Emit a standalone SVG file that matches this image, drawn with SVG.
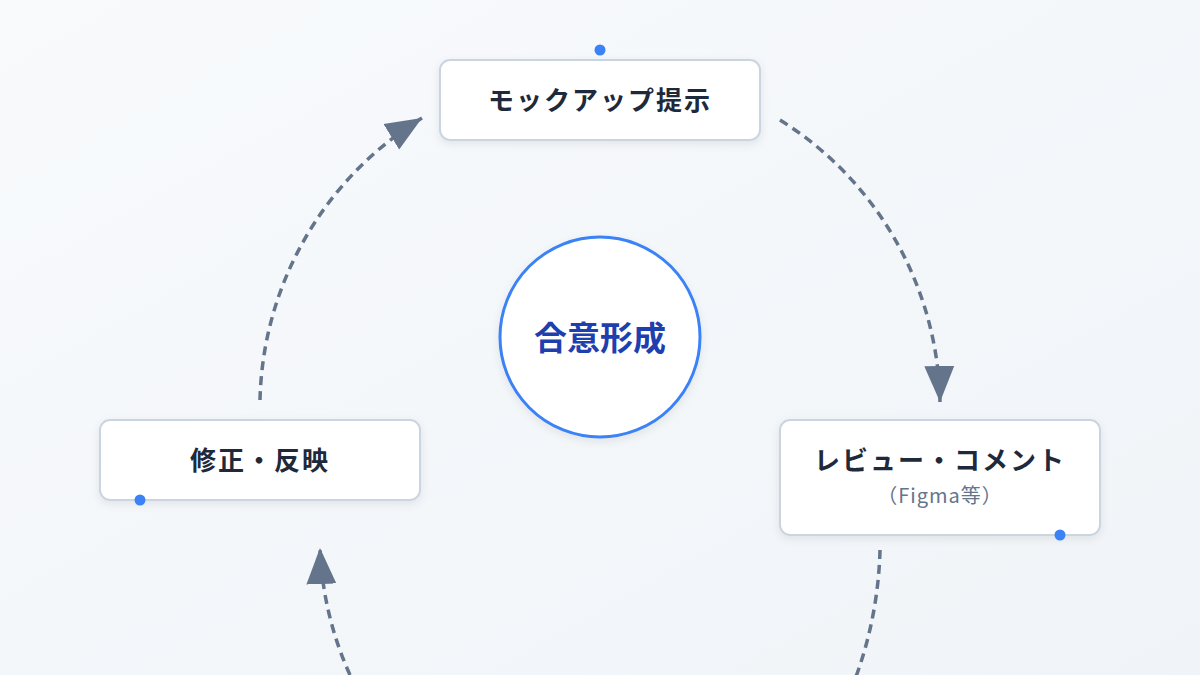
<svg xmlns="http://www.w3.org/2000/svg" width="1200" height="675" viewBox="0 0 1200 675">
<defs>
<linearGradient id="bg" x1="0" y1="0" x2="1" y2="1"><stop offset="0" stop-color="#f8fafc"/><stop offset="1" stop-color="#f0f4f8"/></linearGradient>
<marker id="ah" markerUnits="userSpaceOnUse" markerWidth="38" markerHeight="32" refX="36" refY="15" orient="auto" viewBox="0 0 38 30"><path d="M0 0 L36 15 L0 30 Z" fill="#64748b"/></marker>
<filter id="sh" x="-10%" y="-20%" width="120%" height="150%"><feDropShadow dx="0" dy="3" stdDeviation="4" flood-color="#0f172a" flood-opacity="0.08"/></filter>
<style>
.box{fill:#fff;stroke:#cbd5e1;stroke-width:2;filter:url(#sh)}
.t{font-family:"Noto Sans CJK JP","Noto Sans",sans-serif;font-weight:700;font-size:26px;letter-spacing:2px;fill:#1e293b;text-anchor:middle}
.s{font-family:"Noto Sans CJK JP","Noto Sans",sans-serif;font-size:20px;letter-spacing:1px;fill:#64748b;text-anchor:middle}
.c{fill:none;stroke:#64748b;stroke-width:3.5;stroke-dasharray:9 6;marker-end:url(#ah)}
.dot{fill:#3b82f6}
</style>
</defs>
<rect width="1200" height="675" fill="url(#bg)"/>
<g id="connectors">
<path class="c" d="M780 120 A340 340 0 0 1 940 402"/>
<path class="c" d="M880 550 A400 400 0 0 1 800 780"/>
<path class="c" d="M350 675 A340 340 0 0 1 320 548"/>
<path class="c" d="M260 400 A340 340 0 0 1 422 118"/>
</g>
<g id="center"><circle cx="600" cy="337" r="100" fill="#fff" stroke="#3b82f6" stroke-width="3" filter="url(#sh)"/><text x="600" y="350" font-family="'Noto Sans CJK JP',sans-serif" font-weight="700" font-size="33" fill="#1e40af" text-anchor="middle">合意形成</text></g>
<g id="mockup"><rect class="box" x="440" y="60" width="320" height="80" rx="10"/><text class="t" x="600" y="110">モックアップ提示</text><circle class="dot" cx="600" cy="50" r="5.5"/></g>
<g id="review"><rect class="box" x="780" y="420" width="320" height="115" rx="10"/><text class="t" x="940" y="470">レビュー・コメント</text><text class="s" x="940" y="503">（Figma等）</text><circle class="dot" cx="1060" cy="535" r="5.5"/></g>
<g id="fix"><rect class="box" x="100" y="420" width="320" height="80" rx="10"/><text class="t" x="260" y="470">修正・反映</text><circle class="dot" cx="140" cy="500" r="5.5"/></g>
</svg>
